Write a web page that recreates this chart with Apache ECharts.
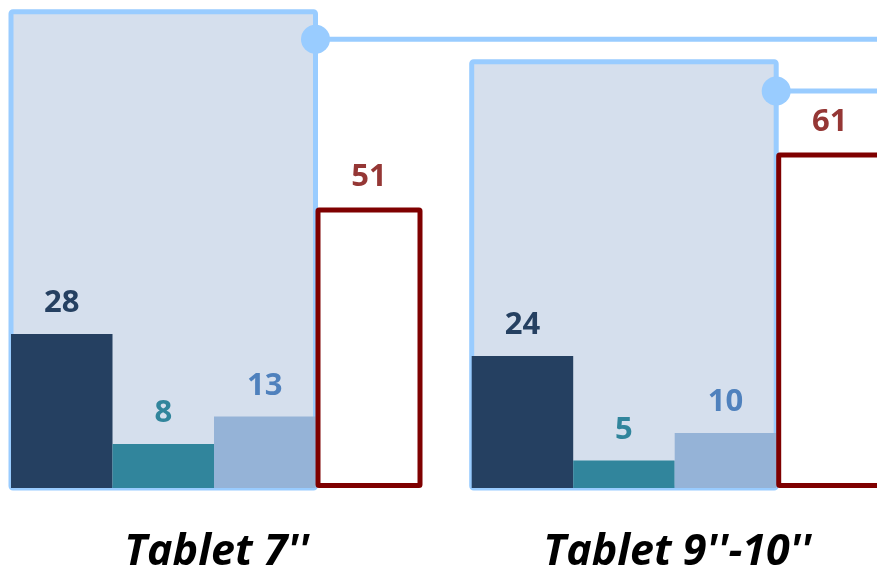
<!DOCTYPE html>
<html>
<head>
<meta charset="utf-8">
<script src="https://cdn.jsdelivr.net/npm/echarts@6/dist/echarts.min.js"></script>
<style>
  html, body { margin: 0; padding: 0; background: #fff; }
  #chart { width: 877px; height: 567px; }
</style>
</head>
<body>
<div id="chart"></div>
<script>
const categories = ["Tablet 7''", "Tablet 9''-10''"];
const navyValues = [28, 24];
const tealValues = [8, 5];
const lightValues = [13, 10];
const redValues = [51, 61];
const boxValues = [86.6, 77.5];
const lineValues = [81.6, 72.2];

const BAR_W = 101.5;
const RED_W = 107;
const GROUP_W = 3 * BAR_W + RED_W;
const Y_MAX = 88;

const chart = echarts.init(document.getElementById('chart'));

function barLabel(color) {
  return {
    show: true,
    position: 'top',
    distance: 15,
    color: color,
    fontFamily: 'Open Sans',
    fontWeight: 'bold',
    fontSize: 31
  };
}

const option = {
  backgroundColor: '#ffffff',
  animation: false,
  grid: {
    left: -13.6,
    width: 921.4,
    top: 488 - Y_MAX * 5.5,
    height: Y_MAX * 5.5,
    outerBoundsMode: 'none',
    containLabel: false
  },
  xAxis: {
    type: 'category',
    data: categories,
    axisLine: { show: false },
    axisTick: { show: false },
    axisLabel: {
      margin: 43,
      color: '#000',
      fontFamily: 'Open Sans',
      fontWeight: 'bold',
      fontStyle: 'italic',
      fontSize: 43
    }
  },
  yAxis: {
    type: 'value',
    min: 0,
    max: Y_MAX,
    show: false,
    splitLine: { show: false }
  },
  series: [
    {
      // shaded box behind the first three bars, with the leader line and dot
      type: 'custom',
      z: 1,
      data: categories.map((c, i) => [i, boxValues[i], lineValues[i]]),
      renderItem: function (params, api) {
        const base = api.coord([api.value(0), 0]);
        const top = api.coord([api.value(0), api.value(1)]);
        const lineY = api.coord([api.value(0), api.value(2)])[1];
        const left = base[0] - GROUP_W / 2;
        const right = left + 3 * BAR_W;
        const gridRight = params.coordSys.x + params.coordSys.width;
        return {
          type: 'group',
          children: [
            {
              type: 'rect',
              shape: { x: left, y: top[1], width: right - left, height: base[1] - top[1], r: 2 },
              style: { fill: '#D5DFED', stroke: '#99CCFF', lineWidth: 5 }
            },
            {
              type: 'line',
              shape: { x1: right, y1: lineY, x2: gridRight, y2: lineY },
              style: { stroke: '#99CCFF', lineWidth: 5 }
            },
            {
              type: 'circle',
              shape: { cx: right, cy: lineY, r: 14.5 },
              style: { fill: '#99CCFF' }
            }
          ]
        };
      }
    },
    {
      type: 'bar',
      z: 2,
      barWidth: BAR_W,
      barGap: '0%',
      data: navyValues,
      itemStyle: { color: '#254061' },
      label: barLabel('#254061')
    },
    {
      type: 'bar',
      z: 2,
      barWidth: BAR_W,
      barGap: '0%',
      data: tealValues,
      itemStyle: { color: '#31859C' },
      label: barLabel('#31859C')
    },
    {
      type: 'bar',
      z: 2,
      barWidth: BAR_W,
      barGap: '0%',
      data: lightValues,
      itemStyle: { color: '#95B3D7' },
      label: barLabel('#4F81BD')
    },
    {
      type: 'bar',
      z: 2,
      barWidth: RED_W,
      barGap: '0%',
      data: redValues,
      itemStyle: { color: '#ffffff', borderColor: '#7F0000', borderWidth: 5, borderRadius: 1 },
      label: barLabel('#953735')
    }
  ]
};

chart.setOption(option);
</script>
</body>
</html>
